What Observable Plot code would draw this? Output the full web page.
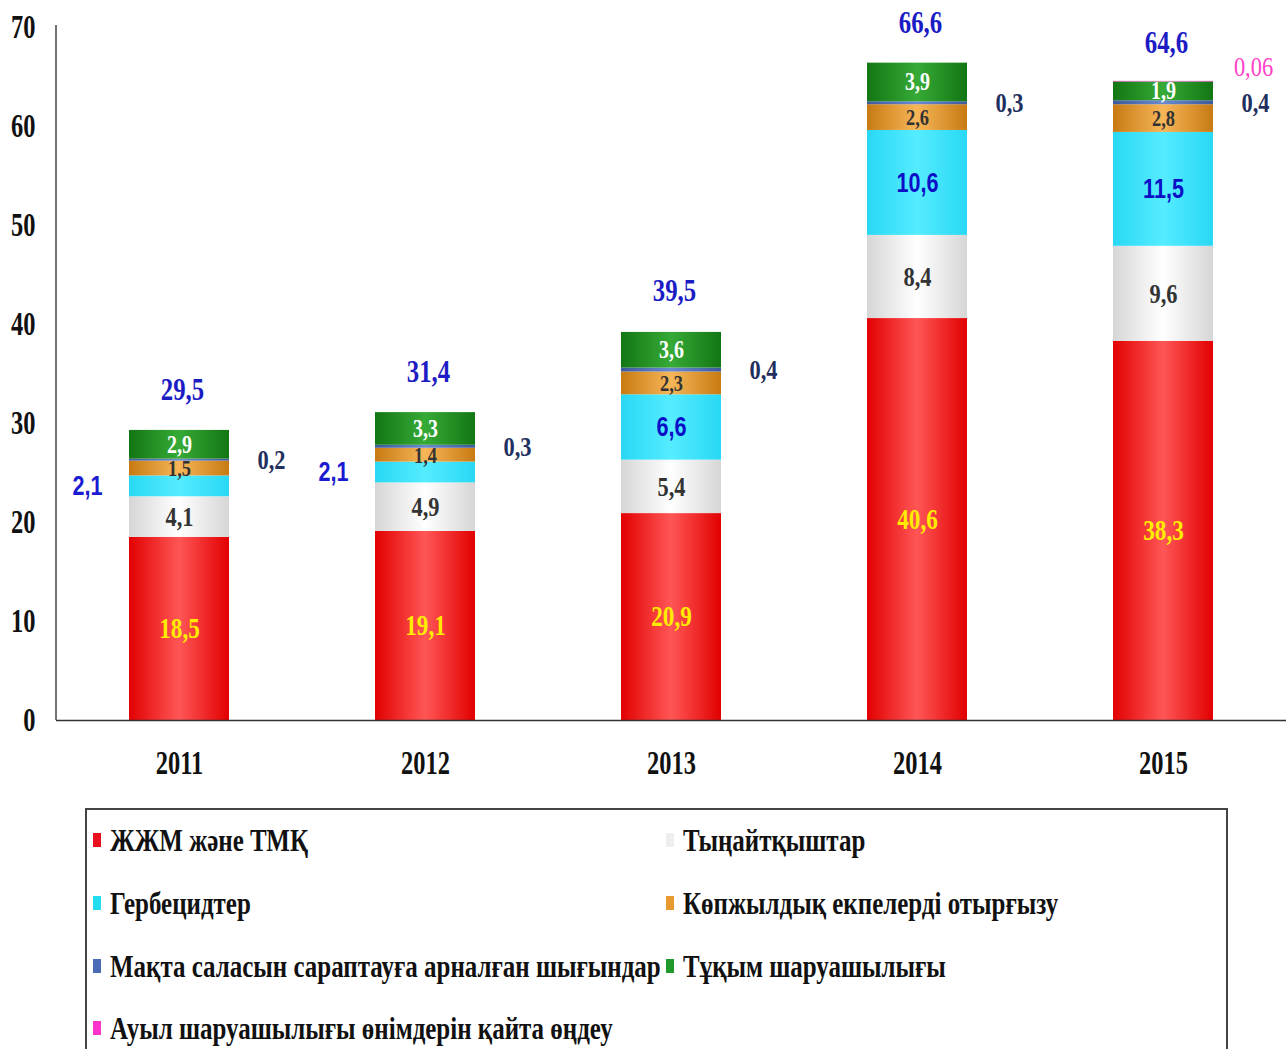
<!DOCTYPE html>
<html><head><meta charset="utf-8">
<script src="https://cdn.jsdelivr.net/npm/d3@7"></script>
<script src="https://cdn.jsdelivr.net/npm/@observablehq/plot@0.6"></script>
<style>
body{margin:0;background:#fff;font-family:"Liberation Serif","Times New Roman",serif;}
#chart{position:absolute;left:0;top:0;}
#legend{position:absolute;left:85px;top:808px;width:1143px;height:270px;border:2px solid #444;box-sizing:border-box;}
.item{position:absolute;display:flex;align-items:center;height:40px;}
.sw{width:8px;height:14px;margin-right:9px;flex:none;}
.lbl{font-weight:bold;font-size:32px;white-space:nowrap;transform:scaleX(0.78);transform-origin:left center;display:inline-block;color:#111;}
</style></head><body>
<div id="chart"></div><div id="legend"></div>
<script>
const years = ["2011", "2012", "2013", "2014", "2015"];
const seriesNames = [
  "ЖЖМ және ТМҚ",
  "Тыңайтқыштар",
  "Гербецидтер",
  "Көпжылдық екпелерді отырғызу",
  "Мақта саласын сараптауға арналған шығындар",
  "Тұқым шаруашылығы",
  "Ауыл шаруашылығы өнімдерін қайта өңдеу"
];
const fuel   = [18.5, 19.1, 20.9, 40.6, 38.3];
const fert   = [4.1, 4.9, 5.4, 8.4, 9.6];
const herb   = [2.1, 2.1, 6.6, 10.6, 11.5];
const orch   = [1.5, 1.4, 2.3, 2.6, 2.8];
const cotton = [0.2, 0.3, 0.4, 0.3, 0.4];
const seed   = [2.9, 3.3, 3.6, 3.9, 1.9];
const proc   = [0, 0, 0, 0, 0.06];
const totals = [29.5, 31.4, 39.5, 66.6, 64.6];
const yTicks = [0, 10, 20, 30, 40, 50, 60, 70];

const seriesValues = [fuel, fert, herb, orch, cotton, seed, proc];
const swatch = ["#e8101a", "#eeeeee", "#22ddf0", "#e89a30", "#4a6cb8", "#1f9a2a", "#ff33cc"];
const gradStops = [
  ["#e20000", "#ff5656"],
  ["#d6d6d6", "#ffffff"],
  ["#28d8f4", "#55ecff"],
  ["#c87a12", "#f6b658"],
  ["#3c5a9c", "#6a8ad0"],
  ["#137613", "#36aa36"],
  ["#ee22bb", "#ff66dd"]
];

const data = [];
years.forEach((y, j) => seriesNames.forEach((s, i) => {
  const v = seriesValues[i][j];
  if (v > 0) data.push({year: y, series: s, value: v});
}));
const totalData = years.map((y, j) => ({year: y, total: totals[j]}));
const fmt = v => String(v).replace(".", ",");
const S = seriesNames;

function label(test, opts) {
  return Plot.text(data, Plot.stackY({
    x: "year", y: "value", z: "series",
    text: d => test(d) ? fmt(d.value) : null,
    fontWeight: "bold",
    fontFamily: "Liberation Serif, Times New Roman, serif",
    ...opts
  }));
}

const chart = Plot.plot({
  width: 1286,
  height: 790,
  marginTop: 27,
  marginBottom: 70,
  marginLeft: 56,
  marginRight: 0,
  style: {fontFamily: "Liberation Serif, Times New Roman, serif", background: "#fff", overflow: "visible"},
  x: {domain: years, range: [54, 1288], paddingInner: 0.595, paddingOuter: 0.2975, label: null},
  y: {domain: [0, 70], label: null},
  color: {type: "ordinal", domain: seriesNames, range: seriesNames.map((_, i) => `url(#grad${i})`)},
  marks: [
    Plot.barY(data, Plot.stackY({x: "year", y: "value", z: "series", fill: "series"})),
    Plot.ruleY([0], {stroke: "#333", strokeWidth: 1.5}),
    Plot.axisY({ticks: yTicks, tickSize: 0, tickPadding: 21, fontSize: 33, fontWeight: "bold", fill: "#111", label: null, tickFormat: d => d, className: "cond-axis"}),
    Plot.axisX({tickSize: 0, tickPadding: 30, fontSize: 33, fontWeight: "bold", fill: "#111", label: null, className: "cond-axis"}),
    label(d => d.series === S[0], {fill: "#ffec00", fontSize: 29}),
    label(d => d.series === S[1], {fill: "#333", fontSize: 28}),
    label(d => d.series === S[2] && d.value >= 3, {fill: "#0b10c8", fontSize: 27, fontFamily: "Liberation Sans, Arial, sans-serif"}),
    label(d => d.series === S[2] && d.value < 3, {fill: "#1a1ad0", fontSize: 27, dx: -92, fontFamily: "Liberation Sans, Arial, sans-serif"}),
    label(d => d.series === S[3], {fill: "#333", fontSize: 23}),
    label(d => d.series === S[4], {fill: "#1f3060", fontSize: 28, dx: 92}),
    label(d => d.series === S[5], {fill: "#ffffff", fontSize: 25}),
    label(d => d.series === S[6], {fill: "#ff40c8", fontSize: 28, dx: 90, dy: -15, fontWeight: "normal"}),
    Plot.text(totalData, {x: "year", y: "total", text: d => fmt(d.total), dy: -38, dx: 3, fill: "#1c1cc4", fontSize: 31, fontWeight: "bold"})
  ]
});

document.getElementById("chart").append(chart);
const svg = d3.select(chart);
const defs = svg.insert("defs", ":first-child");
gradStops.forEach(([edge, center], i) => {
  const g = defs.append("linearGradient").attr("id", `grad${i}`).attr("x1", 0).attr("x2", 1).attr("y1", 0).attr("y2", 0);
  g.append("stop").attr("offset", "0%").attr("stop-color", edge);
  g.append("stop").attr("offset", "50%").attr("stop-color", center);
  g.append("stop").attr("offset", "100%").attr("stop-color", edge);
});
// y axis line via scales
const ys = chart.scale("y");
svg.append("line")
  .attr("x1", 56).attr("x2", 56)
  .attr("y1", ys.apply(70) - 2).attr("y2", ys.apply(0))
  .attr("stroke", "#444").attr("stroke-width", 1.5);

// condense text horizontally
chart.querySelectorAll("text").forEach(t => {
  const fam = (t.getAttribute("font-family") || "");
  const inAxis = !!t.closest(".cond-axis");
  const k = inAxis ? 0.74 : fam.includes("Sans") ? 0.82 : 0.8;
  const L = t.getComputedTextLength();
  if (L > 0) {
    t.setAttribute("textLength", L * k);
    t.setAttribute("lengthAdjust", "spacingAndGlyphs");
  }
});

// legend
const legend = document.getElementById("legend");
const pos = [[6, 10], [579, 10], [6, 73], [579, 73], [6, 136], [579, 136], [6, 198]];
seriesNames.forEach((s, i) => {
  const it = document.createElement("div");
  it.className = "item";
  it.style.left = pos[i][0] + "px";
  it.style.top = pos[i][1] + "px";
  it.innerHTML = `<div class="sw" style="background:${swatch[i]}"></div><span class="lbl">${s}</span>`;
  legend.append(it);
});
</script>
</body></html>
